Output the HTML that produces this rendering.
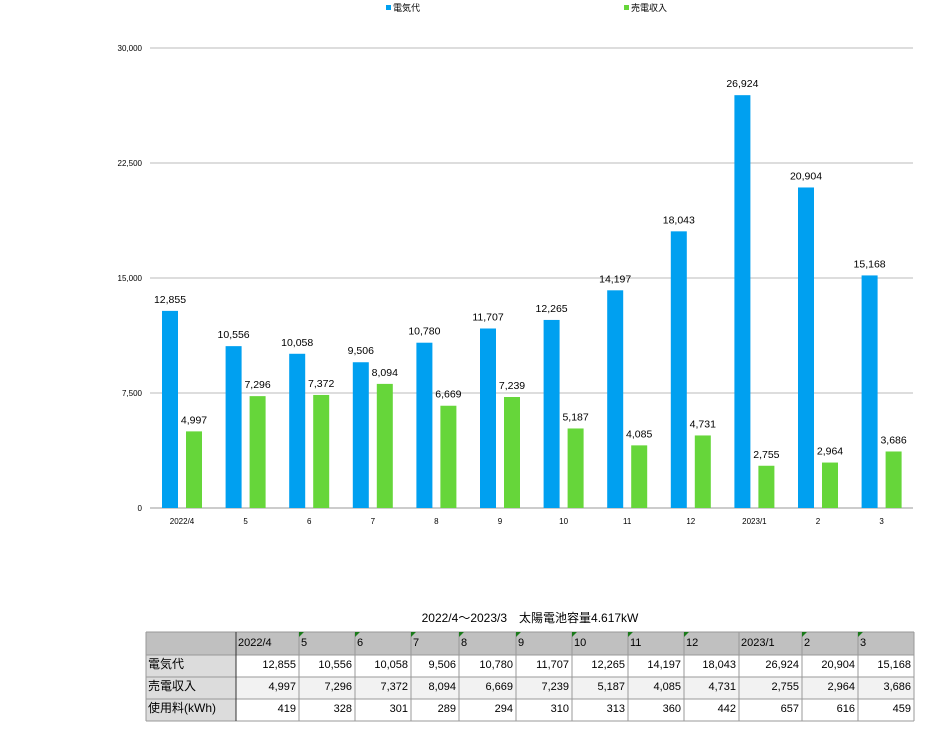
<!DOCTYPE html>
<html><head><meta charset="utf-8"><style>
body{margin:0;width:938px;height:734px;background:#fff;overflow:hidden;font-family:"Liberation Sans","Noto Sans CJK JP",sans-serif;}
svg{position:absolute;left:0;top:0}
</style></head><body>
<svg id="s" width="938" height="734" xmlns="http://www.w3.org/2000/svg"></svg>
<script>
var blue=[12855,10556,10058,9506,10780,11707,12265,14197,18043,26924,20904,15168];
var green=[4997,7296,7372,8094,6669,7239,5187,4085,4731,2755,2964,3686];
var use=[419,328,301,289,294,310,313,360,442,657,616,459];
var labs=["2022/4","5","6","7","8","9","10","11","12","2023/1","2","3"];
var f=n=>n.toLocaleString("en-US");
var h='';
var F='font-family="Liberation Sans,Noto Sans CJK JP,sans-serif"';
h+='<rect x="386" y="5" width="5" height="5" fill="#00a0f0"/><text x="393" y="11" font-size="9" '+F+'>電気代</text>';
h+='<rect x="624" y="5" width="5" height="5" fill="#66d63a"/><text x="631" y="11" font-size="9" '+F+'>売電収入</text>';
[0,7500,15000,22500,30000].forEach(v=>{var y=508-v*460/30000;
 h+='<line x1="150" x2="913" y1="'+y+'" y2="'+y+'" stroke="'+(v?'#bbb':'#999')+'" stroke-width="1"/>';
 h+='<text x="142" y="'+(y+3)+'" font-size="8" text-anchor="end" '+F+'>'+f(v)+'</text>';});
for(var i=0;i<12;i++){var c=182+i*63.6;
 var yb=508-blue[i]*460/30000, yg=508-green[i]*460/30000;
 h+='<rect x="'+(c-20)+'" y="'+yb+'" width="16" height="'+(508-yb)+'" fill="#00a0f0"/>';
 h+='<rect x="'+(c+4)+'" y="'+yg+'" width="16" height="'+(508-yg)+'" fill="#66d63a"/>';
 h+='<text x="'+(c-12)+'" y="'+(yb-8)+'" font-size="10.5" text-anchor="middle" '+F+'>'+f(blue[i])+'</text>';
 h+='<text x="'+(c+12)+'" y="'+(yg-8)+'" font-size="10.5" text-anchor="middle" '+F+'>'+f(green[i])+'</text>';
 h+='<text x="'+c+'" y="524" font-size="8" text-anchor="middle" '+F+'>'+labs[i]+'</text>';}
h+='<text x="530" y="622" font-size="12" text-anchor="middle" '+F+'>2022/4～2023/3　太陽電池容量4.617kW</text>';
var xs=[146,236,299,355,411,459,516,572,628,684,739,802,858,914];
var ys=[632,655,677,699,721];
h+='<rect x="146" y="632" width="768" height="23" fill="#c0c0c0"/>';
h+='<rect x="146" y="655" width="90" height="66" fill="#dcdcdc"/>';
h+='<rect x="236" y="677" width="678" height="22" fill="#f2f2f2"/>';
ys.forEach(y=>h+='<line x1="146" x2="914" y1="'+y+'" y2="'+y+'" stroke="#999"/>');
xs.forEach(x=>h+='<line x1="'+x+'" x2="'+x+'" y1="632" y2="721" stroke="#999"/>');
h+='<line x1="236" x2="236" y1="632" y2="721" stroke="#333"/>';
for(var i=0;i<12;i++){
 h+='<text x="'+(xs[i+1]+2)+'" y="646" font-size="11" '+F+'>'+labs[i]+'</text>';
 if(i>0&&i!=9)h+='<polygon points="'+xs[i+1]+',632 '+(xs[i+1]+5)+',632 '+xs[i+1]+',637" fill="#1a7a1a"/>';
 [blue,green,use].forEach((a,r)=>h+='<text x="'+(xs[i+2]-3)+'" y="'+(668+r*22)+'" font-size="11" text-anchor="end" '+F+'>'+f(a[i])+'</text>');}
["電気代","売電収入","使用料(kWh)"].forEach((t,r)=>h+='<text x="148" y="'+(668+r*22)+'" font-size="12" '+F+'>'+t+'</text>');
document.getElementById('s').innerHTML=h;
</script>
</body></html>
